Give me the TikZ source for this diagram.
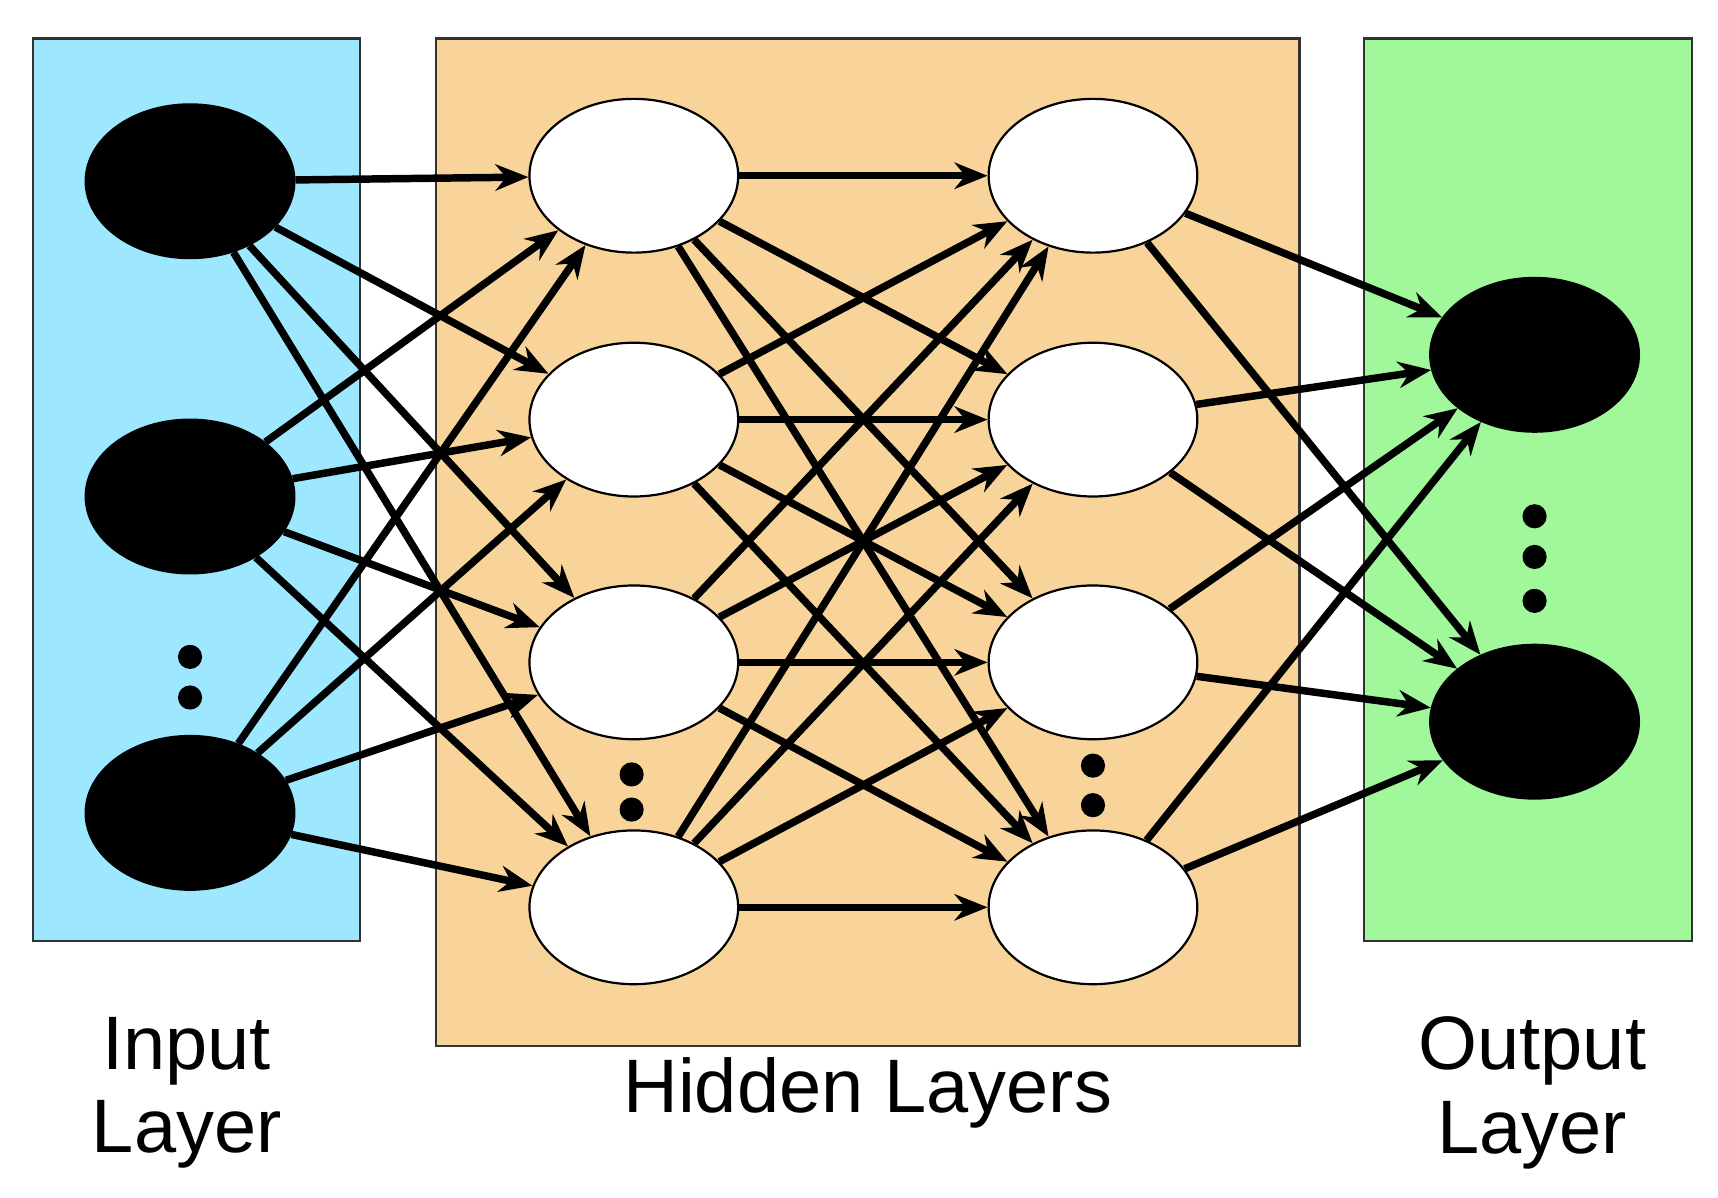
\documentclass[tikz,border=0pt]{standalone}
\usepackage{fontspec}
\setmainfont{Liberation Sans}
\usetikzlibrary{shapes.geometric,arrows.meta}
\begin{document}
\begin{tikzpicture}[x=0.5pt,y=-0.5pt,
  neuron/.style={ellipse,draw=black,line width=1pt,minimum width=95pt,minimum height=70pt,inner sep=0pt},
  inn/.style={neuron,fill=black},
  hid/.style={neuron,fill=white},
  conn/.style={line width=3.4pt,-{Stealth[length=15pt,width=12pt]}},
  box/.style={draw=black!80,line width=1pt},
  dot/.style={circle,fill=black,inner sep=0pt,minimum size=11pt},
  lab/.style={font=\fontsize{34.5}{38}\selectfont,align=center}]
\useasboundingbox (0,0) rectangle (1564,1090);
\fill[white] (0,0) rectangle (1564,1090);
\draw[box,fill={rgb,255:red,158;green,232;blue,255}] (30,35) rectangle (328,857);
\draw[box,fill={rgb,255:red,249;green,212;blue,154}] (397,35) rectangle (1183,952);
\draw[box,fill={rgb,255:red,160;green,248;blue,154}] (1242,35) rectangle (1540,857);
\foreach \i/\y in {1/165,2/452,3/740} \node[inn] (i\i) at (173,\y) {};
\foreach \i/\y in {1/160,2/382,3/603,4/826} {
  \node[hid] (a\i) at (577,\y) {};
  \node[hid] (b\i) at (995,\y) {};
}
\node[inn] (o1) at (1397,323) {};
\node[inn] (o2) at (1397,657) {};
\node[dot] (d1) at (173,598) {}; \node[dot] (d2) at (173,635) {};
\node[dot] (d3) at (575,705) {}; \node[dot] (d4) at (575,737) {};
\node[dot] (d5) at (995,697) {}; \node[dot] (d6) at (995,733) {};
\node[dot] (d7) at (1397,470) {}; \node[dot] (d8) at (1397,507) {}; \node[dot] (d9) at (1397,547) {};
\foreach \s in {1,2,3} \foreach \t in {1,2,3,4} \draw[conn] (i\s) -- (a\t);
\foreach \s in {1,2,3,4} \foreach \t in {1,2,3,4} \draw[conn] (a\s) -- (b\t);
\foreach \s in {1,2,3,4} \foreach \t in {1,2} \draw[conn] (b\s) -- (o\t);
\node[lab] (l1) at (170,995) {Input\\Layer};
\node[lab] (l2) at (790,995) {Hidden Layers};
\node[lab] (l3) at (1395,995) {Output\\Layer};
\end{tikzpicture}
\end{document}
